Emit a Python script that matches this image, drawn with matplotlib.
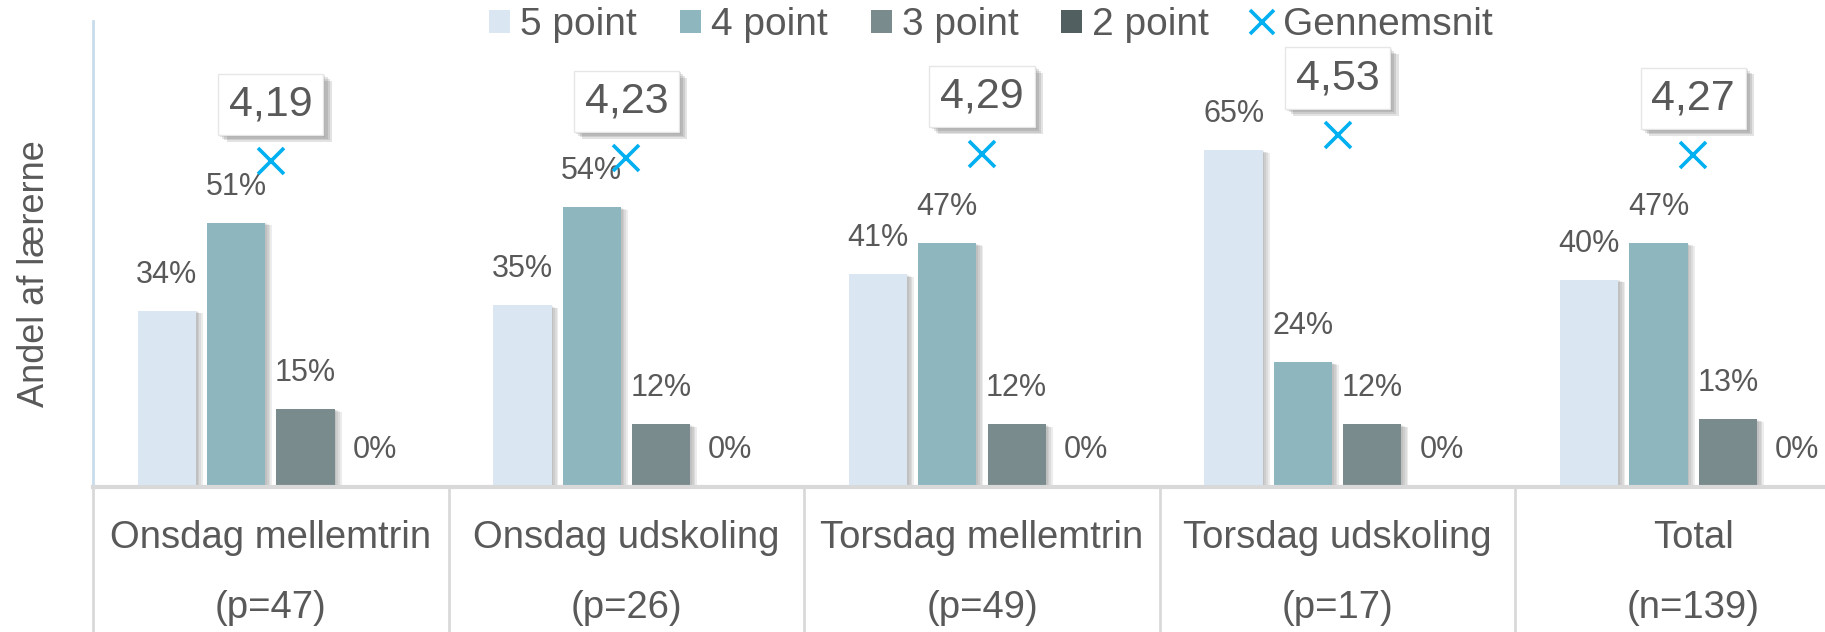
import matplotlib
matplotlib.use("Agg")
import matplotlib.pyplot as plt
import matplotlib.patheffects as pe
from matplotlib.lines import Line2D
from matplotlib.patches import Patch
import numpy as np

plt.rcParams['font.family'] = ['Liberation Sans', 'DejaVu Sans']

categories = ['Onsdag mellemtrin', 'Onsdag udskoling', 'Torsdag mellemtrin', 'Torsdag udskoling', 'Total']
n_labels = ['(p=47)', '(p=26)', '(p=49)', '(p=17)', '(n=139)']
series_names = ['5 point', '4 point', '3 point', '2 point']
p5 = [34, 35, 41, 65, 40]
p4 = [51, 54, 47, 24, 47]
p3 = [15, 12, 12, 12, 13]
p2 = [0, 0, 0, 0, 0]
avg = [4.19, 4.23, 4.29, 4.53, 4.27]
avg_name = 'Gennemsnit'

colors = ['#DAE7F3', '#8DB6BF', '#798B8C', '#515F60']
marker_color = '#00B0F0'
text_color = '#595959'

W, H = 1825, 632
fig = plt.figure(figsize=(W / 100, H / 100), dpi=100)
left = 93 / W
bottom = (H - 486.5) / H
top = 1 - 21 / H
ax = fig.add_axes([left, bottom, 1778 / W, top - bottom])

x = np.arange(len(categories))
spacing = 0.195
width = 0.164
offsets = np.array([-1.5, -0.5, 0.5, 1.5]) * spacing


def soft_shadow(dx, dy, steps, alpha, color):
    effects = []
    for k in range(steps, 0, -1):
        f = k / steps
        effects.append(pe.SimplePatchShadow(offset=(dx * f, dy * f), shadow_rgbFace=color, alpha=alpha))
    effects.append(pe.Normal())
    return effects


bar_shadow = soft_shadow(5, -2, 4, 0.13, '#6f6f6f')
for vals, off, col, name in zip([p5, p4, p3, p2], offsets, colors, series_names):
    v = np.array(vals) / 100.0
    bars = ax.bar(x + off, v, width=width, color=col, label=name, zorder=3)
    for b in bars:
        b.set_path_effects(bar_shadow)
    for xi, vi, raw in zip(x + off, v, vals):
        ax.annotate(f'{raw}%', xy=(xi, vi), xytext=(0, 26), textcoords='offset points',
                    ha='center', va='center', fontsize=22, color=text_color, zorder=5)

ax.set_xlim(-0.5, len(categories) - 0.5)
ax.set_ylim(0, 0.9)
ax.set_yticks([])
ax.set_xticks([])
for s in ['top', 'right', 'bottom']:
    ax.spines[s].set_visible(False)
ax.spines['left'].set_color('#C9DCEB')
ax.spines['left'].set_linewidth(2)

# baseline and category separators
ax.axhline(0, color='#D9D9D9', lw=3, zorder=4, clip_on=False)
for b in np.arange(len(categories) + 1) - 0.5:
    ax.plot([b, b], [0, -0.5], color='#D9D9D9', lw=2, clip_on=False, zorder=4)

for xi, cat, nl in zip(x, categories, n_labels):
    ax.text(xi, -0.11, cat, transform=ax.get_xaxis_transform(), ha='center', va='center',
            fontsize=27.5, color=text_color)
    ax.text(xi, -0.262, nl, transform=ax.get_xaxis_transform(), ha='center', va='center',
            fontsize=27.5, color=text_color)

fig.text(35 / W, 1 - 274 / H, 'Andel af lærerne', rotation=90, ha='center', va='center',
         fontsize=26, color=text_color)

ax2 = ax.twinx()
ax2.set_ylim(0, 6)
ax2.axis('off')
ax2.plot(x, avg, linestyle='none', marker='x', markersize=19, markeredgewidth=2.6,
         color=marker_color, zorder=6)
box_shadow = soft_shadow(6, -5, 4, 0.16, '#555555')
for xi, a in zip(x, avg):
    t = ax2.annotate(f'{a:.2f}'.replace('.', ','), xy=(xi, a), xytext=(0, 41), textcoords='offset points',
                     ha='center', va='center', fontsize=31, color=text_color,
                     bbox=dict(boxstyle='square,pad=0.25', fc='white', ec='#E6E6E6', lw=1))
    t.get_bbox_patch().set_path_effects(box_shadow)

handles = [Patch(facecolor=c, edgecolor='none') for c in colors]
handles.append(Line2D([], [], linestyle='none', marker='x', markersize=17, markeredgewidth=2.6, color=marker_color))
labels = series_names + [avg_name]
leg = fig.legend(handles, labels, loc='center', bbox_to_anchor=(991 / W, 1 - 25 / H), ncol=5,
                 frameon=False, fontsize=28, handlelength=0.54, handleheight=0.54,
                 handletextpad=0.26, columnspacing=1.1, borderaxespad=0)
for txt in leg.get_texts():
    txt.set_color(text_color)

fig.savefig('out.png', dpi=100)
